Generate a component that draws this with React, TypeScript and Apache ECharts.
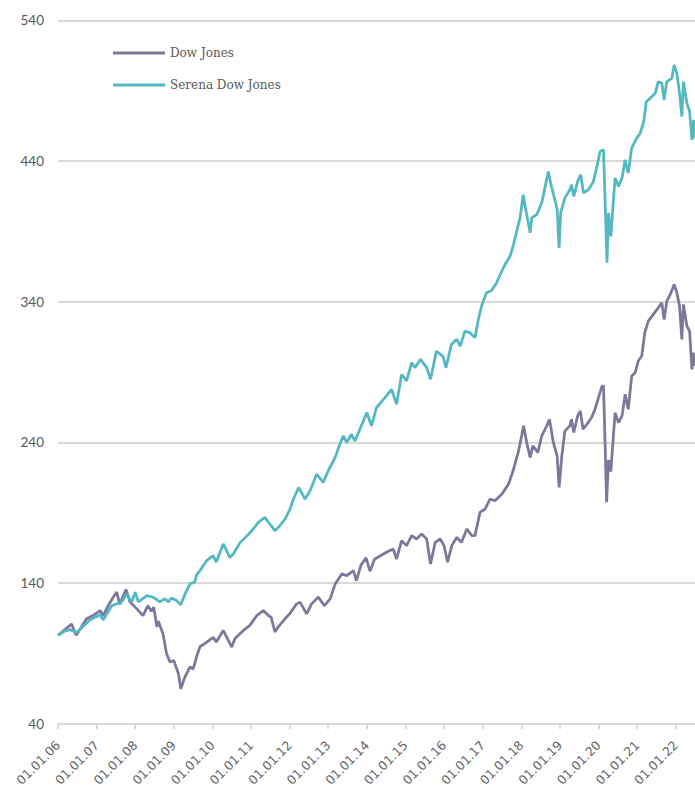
import React, { useEffect, useRef } from "react";
import * as echarts from "echarts";

// x values are decimal years
const dowDates = [
  2006.0, 2006.18, 2006.35, 2006.47, 2006.61, 2006.74, 2006.91, 2007.09, 2007.17, 2007.3,
  2007.43, 2007.52, 2007.6, 2007.76, 2007.87, 2008.0, 2008.2, 2008.33, 2008.42, 2008.48,
  2008.56, 2008.6, 2008.72, 2008.81, 2008.9, 2009.0, 2009.12, 2009.18, 2009.29, 2009.42,
  2009.5, 2009.6, 2009.68, 2009.8, 2010.02, 2010.1, 2010.28, 2010.5, 2010.58, 2010.8,
  2010.97, 2011.15, 2011.32, 2011.45, 2011.52, 2011.62, 2011.7, 2011.88, 2012.0, 2012.18,
  2012.27, 2012.44, 2012.57, 2012.74, 2012.9, 2013.05, 2013.18, 2013.35, 2013.48, 2013.65,
  2013.73, 2013.85, 2013.98, 2014.08, 2014.2, 2014.35, 2014.51, 2014.68, 2014.77, 2014.9,
  2015.03, 2015.16, 2015.29, 2015.42, 2015.55, 2015.65, 2015.77, 2015.9, 2016.0, 2016.09,
  2016.2, 2016.33, 2016.45, 2016.59, 2016.72, 2016.8, 2016.93, 2017.06, 2017.19, 2017.32,
  2017.5, 2017.67, 2017.8, 2017.92, 2018.01, 2018.06, 2018.14, 2018.23, 2018.3, 2018.43,
  2018.53, 2018.66, 2018.73, 2018.83, 2018.93, 2018.98, 2019.05, 2019.13, 2019.26, 2019.3,
  2019.36, 2019.46, 2019.53, 2019.6, 2019.73, 2019.82, 2019.91, 2020.0, 2020.09, 2020.13,
  2020.17, 2020.21, 2020.26, 2020.32, 2020.43, 2020.52, 2020.61, 2020.69, 2020.77, 2020.86,
  2020.95, 2021.03, 2021.12, 2021.2, 2021.29, 2021.42, 2021.55, 2021.64, 2021.7, 2021.77,
  2021.86, 2021.96, 2022.03, 2022.1, 2022.16, 2022.2, 2022.29, 2022.36, 2022.42, 2022.46,
  2022.49,
];
const dowValues = [
  103, 107, 111, 103, 109, 114.7, 117, 120.6, 117, 124,
  130, 133.7, 125, 135.5, 126.5, 123, 117, 124, 120, 123,
  109, 113, 104, 90, 84, 85, 75.6, 65, 73.5, 80.6,
  79, 88.6, 95, 97, 101.5, 98.2, 106.4, 94.6, 100.5, 106.4,
  110, 117, 120.6, 117, 115.9, 105.3, 108.8, 114.7, 118.2, 125.3,
  126.5, 118.2, 125.3, 130.1, 124.1, 128.9, 139.5, 146.6, 145.4, 148.9,
  141.8, 153, 158, 148.5, 157, 159.5, 162, 164.3, 157.2, 170.2,
  166.7, 173.8, 171.4, 175, 171.4, 153.7, 169, 171.4, 166.7, 154.9,
  166.7, 172.6, 169, 178.5, 173.8, 173.8, 190.3, 192.7, 199.8, 198.6,
  203.3, 210.4, 221, 232.9, 244.7, 251.8, 240, 229.4, 237.6, 232.9,
  244.7, 251.8, 256.5, 240, 230.5, 208, 230.5, 248.2, 251.8, 256.5,
  247.1, 258.9, 262.4, 249.4, 254.1, 257.7, 263.6, 271.9, 280.1, 280.1,
  240, 197.5, 227.6, 219.3, 261.2, 254.1, 258.9, 274.3, 263.6, 287.2,
  289.6, 297.9, 301.4, 318, 326.2, 331, 335.7, 339.2, 327.4, 340.4,
  345.2, 352.3, 346.4, 336.9, 313.3, 338, 322.7, 319.1, 292, 303.8,
  294.3,
];

const serenaDates = [
  2006.0, 2006.18, 2006.31, 2006.48, 2006.83, 2007.09, 2007.17, 2007.39, 2007.65, 2007.78,
  2007.91, 2008.0, 2008.08, 2008.3, 2008.47, 2008.64, 2008.77, 2008.86, 2008.94, 2009.07,
  2009.18, 2009.29, 2009.42, 2009.54, 2009.59, 2009.68, 2009.85, 2010.02, 2010.1, 2010.28,
  2010.45, 2010.54, 2010.72, 2010.9, 2011.06, 2011.19, 2011.36, 2011.45, 2011.62, 2011.75,
  2011.88, 2012.01, 2012.1, 2012.23, 2012.4, 2012.53, 2012.7, 2012.87, 2013.0, 2013.18,
  2013.3, 2013.39, 2013.48, 2013.6, 2013.69, 2013.82, 2014.0, 2014.12, 2014.25, 2014.47,
  2014.64, 2014.77, 2014.9, 2015.03, 2015.16, 2015.25, 2015.39, 2015.55, 2015.65, 2015.8,
  2015.97, 2016.05, 2016.19, 2016.33, 2016.42, 2016.54, 2016.67, 2016.8, 2016.89, 2016.97,
  2017.1, 2017.23, 2017.36, 2017.45, 2017.58, 2017.71, 2017.8, 2017.88, 2017.97, 2018.05,
  2018.1, 2018.15, 2018.23, 2018.27, 2018.4, 2018.53, 2018.62, 2018.7, 2018.78, 2018.87,
  2018.93, 2018.98, 2019.02, 2019.13, 2019.26, 2019.3, 2019.36, 2019.46, 2019.54, 2019.61,
  2019.74, 2019.87, 2019.97, 2020.04, 2020.13, 2020.17, 2020.22, 2020.26, 2020.32, 2020.43,
  2020.52, 2020.61, 2020.69, 2020.77, 2020.86, 2020.99, 2021.08, 2021.17, 2021.24, 2021.34,
  2021.47, 2021.55, 2021.64, 2021.7, 2021.77, 2021.9, 2021.96, 2022.03, 2022.1, 2022.16,
  2022.2, 2022.29, 2022.36, 2022.42, 2022.46, 2022.49,
];
const serenaValues = [
  103, 106, 107, 105, 114, 117.6, 114, 124, 126.7, 132.4,
  126.7, 133.6, 126.7, 131.2, 130, 126.7, 129, 126.7, 129.5, 127.7,
  124.6, 132.4, 139.5, 140.7, 146, 149, 156, 159.6, 155, 167.9,
  158.4, 160.8, 169, 173.8, 178.5, 183.3, 186.8, 183.3, 177.3, 180.9,
  185.6, 192.7, 199.8, 208, 199.8, 205.7, 217.5, 211.6, 219.9, 229.4,
  238.8, 244.7, 240, 245.9, 241, 249.4, 261.3, 251.8, 264.8, 271.9,
  277.8, 267.2, 288.4, 283.7, 296.7, 293.2, 299.1, 293.2, 284.9, 304.8,
  301.4, 293.2, 309.7, 313.3, 308.5, 319.1, 318, 314.5, 327.5, 336.9,
  346.4, 348, 353.5, 359, 366.5, 372.4, 380.6, 390, 399.6, 416,
  407.8, 400.7, 389, 399.6, 401.9, 410.2, 422, 432.6, 422, 412.6,
  405.5, 378.3, 403.1, 413.8, 419.6, 423.2, 414.9, 425.5, 430.3, 417.3,
  419.6, 425.5, 437.4, 446.8, 448, 412.6, 367.7, 403.1, 386.5, 428,
  422, 428, 440.9, 431.5, 449.2, 456.2, 459.8, 468, 482.2, 484.6,
  488.2, 496.4, 495.3, 483.5, 496.4, 498.8, 508.3, 502.4, 488.2, 471.6,
  496.4, 481.1, 475.2, 455.1, 469.3, 456.3,
];

const seriesNames = ["Dow Jones", "Serena Dow Jones"];
const yTicks = [40, 140, 240, 340, 440, 540];

export default function App() {
  const ref = useRef<HTMLDivElement>(null);
  useEffect(() => {
    if (!ref.current) return;
    const chart = echarts.init(ref.current, null, { renderer: "svg" });
    const zip = (d: number[], v: number[]) => d.map((x, i) => [x, v[i]]);
    chart.setOption({
      animation: false,
      backgroundColor: "#ffffff",
      grid: { left: 58, right: 0, top: 20.3, bottom: 63, containLabel: false },
      legend: {
        orient: "vertical",
        left: 108,
        top: 42,
        itemWidth: 52,
        itemHeight: 3,
        itemGap: 20,
        icon: "rect",
        data: seriesNames,
        textStyle: { fontFamily: "DejaVu Serif", fontSize: 12, color: "#595959" },
      },
      xAxis: {
        type: "value",
        min: 2006,
        max: 2022.5,
        interval: 1,
        axisLine: { show: true, lineStyle: { color: "#d9d9d9", width: 2 } },
        axisTick: { show: true, length: 5, lineStyle: { color: "#d9d9d9", width: 2 } },
        splitLine: { show: false },
        axisLabel: {
          rotate: 45,
          margin: 19,
          fontFamily: "DejaVu Sans",
          fontSize: 12.5,
          color: "#666666",
          showMaxLabel: false,
          formatter: (v: number) =>
            Number.isInteger(v) ? "01.01." + String(v % 100).padStart(2, "0") : "",
        },
      },
      yAxis: {
        type: "value",
        min: yTicks[0],
        max: yTicks[yTicks.length - 1],
        interval: 100,
        axisLine: { show: false },
        axisTick: { show: false },
        splitLine: { lineStyle: { color: "#d9d9d9", width: 2 } },
        axisLabel: { margin: 14, fontFamily: "Lato", fontSize: 13.5, color: "#595959" },
      },
      series: [
        {
          name: seriesNames[0],
          type: "line",
          data: zip(dowDates, dowValues),
          showSymbol: false,
          symbol: "none",
          lineStyle: { color: "#7c779b", width: 2.75 },
          itemStyle: { color: "#7c779b" },
          z: 3,
        },
        {
          name: seriesNames[1],
          type: "line",
          data: zip(serenaDates, serenaValues),
          showSymbol: false,
          symbol: "none",
          lineStyle: { color: "#52b8c1", width: 2.75 },
          itemStyle: { color: "#52b8c1" },
          z: 4,
        },
      ],
    });
    return () => chart.dispose();
  }, []);
  return (
    <div
      ref={ref}
      style={{ position: "absolute", left: 0, top: 0, width: 695, height: 789 }}
    />
  );
}
